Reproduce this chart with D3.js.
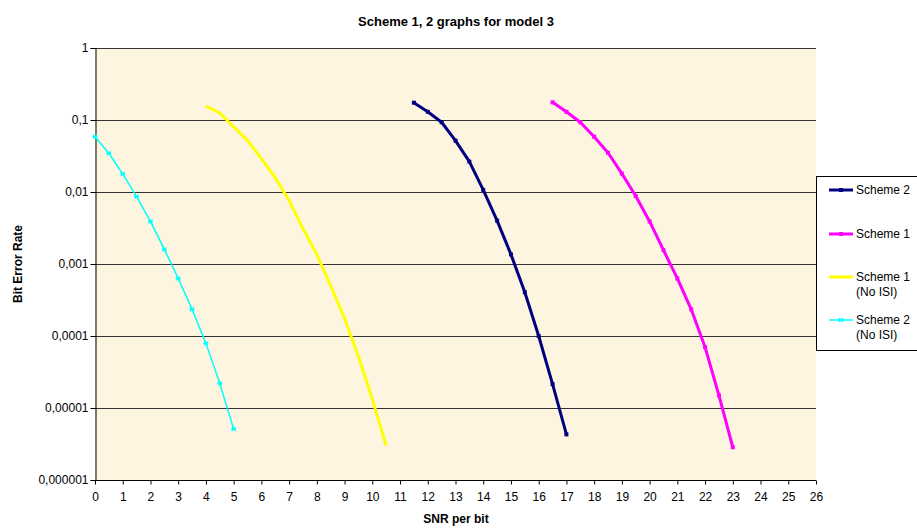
<!DOCTYPE html>
<html>
<head>
<meta charset="utf-8">
<script src="https://cdn.jsdelivr.net/npm/d3@7"></script>
<style>
  body { margin: 0; background: #fff; }
  svg { display: block; font-family: 'Liberation Sans', Arial, sans-serif; }
</style>
</head>
<body>
<svg id="chart" width="917" height="531"></svg>
<script>
'use strict';

// SNR per bit (dB) for each curve, 0.5 dB steps
var snrScheme2NoIsi = [0, 0.5, 1, 1.5, 2, 2.5, 3, 3.5, 4, 4.5, 5];
var berScheme2NoIsi = [0.0586, 0.0345, 0.0178, 0.0086, 0.0039, 0.0016, 0.00063, 0.000235, 0.000079, 0.000022, 0.0000051];

var snrScheme1NoIsi = [4, 4.5, 5, 5.5, 6, 6.5, 7, 7.5, 8, 8.5, 9, 9.5, 10, 10.5];
var berScheme1NoIsi = [0.156, 0.125, 0.0807, 0.0522, 0.029, 0.0158, 0.0076, 0.0031, 0.00135, 0.0005, 0.000175, 0.000052, 0.0000133, 0.000003];

var snrScheme2 = [11.5, 12, 12.5, 13, 13.5, 14, 14.5, 15, 15.5, 16, 16.5, 17];
var berScheme2 = [0.174, 0.13, 0.093, 0.0516, 0.0264, 0.0107, 0.004, 0.00136, 0.000405, 0.0001, 0.0000215, 0.0000043];

var snrScheme1 = [16.5, 17, 17.5, 18, 18.5, 19, 19.5, 20, 20.5, 21, 21.5, 22, 22.5, 23];
var berScheme1 = [0.176, 0.13, 0.093, 0.0586, 0.0351, 0.018, 0.0088, 0.0039, 0.00156, 0.00063, 0.000235, 0.00007, 0.000015, 0.00000285];

var xTicks = d3.range(0, 27);
var yTicks = [1, 0.1, 0.01, 0.001, 0.0001, 0.00001, 0.000001];
var yTickLabels = ['1', '0,1', '0,01', '0,001', '0,0001', '0,00001', '0,000001'];

var legendNames = [['Scheme 2'], ['Scheme 1'], ['Scheme 1', '(No ISI)'], ['Scheme 2', '(No ISI)']];

var series = [
    { x: snrScheme2, y: berScheme2, color: '#000080', width: 3, marker: 'dash' },
    { x: snrScheme1, y: berScheme1, color: '#FF00FF', width: 3, marker: 'dash' },
    { x: snrScheme1NoIsi, y: berScheme1NoIsi, color: '#FFFF00', width: 3, marker: 'none' },
    { x: snrScheme2NoIsi, y: berScheme2NoIsi, color: '#00FFFF', width: 1.5, marker: 'star' }
];

var svg = d3.select('#chart');
var margin = { left: 95, right: 816, top: 48, bottom: 480 };

var x = d3.scaleLinear().domain([0, 26]).range([margin.left, margin.right]);
var y = d3.scaleLog().domain([0.000001, 1]).range([margin.bottom, margin.top]);

// plot background
svg.append('rect')
    .attr('x', margin.left)
    .attr('y', margin.top)
    .attr('width', margin.right - margin.left)
    .attr('height', margin.bottom - margin.top)
    .attr('fill', '#FDF5E0');

// horizontal gridlines
svg.append('g')
    .selectAll('line')
    .data(yTicks.slice(0, -1))
    .enter().append('line')
    .attr('x1', margin.left)
    .attr('x2', margin.right)
    .attr('y1', function(d) { return Math.round(y(d)) + 0.5; })
    .attr('y2', function(d) { return Math.round(y(d)) + 0.5; })
    .attr('stroke', '#333')
    .attr('stroke-width', 1);

// axes
var yAxis = d3.axisLeft(y)
    .tickValues(yTicks)
    .tickSize(5)
    .tickFormat(function(d, i) { return yTickLabels[i]; });

var gy = svg.append('g')
    .attr('transform', 'translate(' + (margin.left + 0.5) + ',0)')
    .call(yAxis);
gy.select('.domain').attr('stroke', '#000');
gy.selectAll('.tick line').attr('stroke', '#000');
gy.selectAll('.tick text')
    .attr('font-size', 12)
    .attr('fill', '#000')
    .attr('font-family', "'Liberation Sans', Arial, sans-serif")
    .attr('x', -7);

var xAxis = d3.axisBottom(x)
    .tickValues(xTicks)
    .tickSize(4)
    .tickFormat(d3.format('d'));

var gx = svg.append('g')
    .attr('transform', 'translate(0,' + (margin.bottom + 0.5) + ')')
    .call(xAxis);
gx.select('.domain').attr('stroke', '#000').attr('d', 'M' + margin.left + ',0H' + margin.right);
gx.selectAll('.tick line').attr('stroke', '#000');
gx.selectAll('.tick text')
    .attr('font-size', 12)
    .attr('fill', '#000')
    .attr('font-family', "'Liberation Sans', Arial, sans-serif")
    .attr('y', 12);

// titles
svg.append('text')
    .attr('x', 456)
    .attr('y', 26)
    .attr('text-anchor', 'middle')
    .attr('font-weight', 'bold')
    .attr('font-size', 13)
    .text('Scheme 1, 2 graphs for model 3');

svg.append('text')
    .attr('x', 456)
    .attr('y', 523)
    .attr('text-anchor', 'middle')
    .attr('font-weight', 'bold')
    .attr('font-size', 12)
    .text('SNR per bit');

svg.append('text')
    .attr('transform', 'translate(22,264) rotate(-90)')
    .attr('text-anchor', 'middle')
    .attr('font-weight', 'bold')
    .attr('font-size', 12)
    .text('Bit Error Rate');

// curves
var line = d3.line()
    .x(function(d) { return x(d[0]); })
    .y(function(d) { return y(d[1]); });

function drawMarkers(g, pts, s) {
    if (s.marker === 'dash') {
        g.selectAll('line.mk')
            .data(pts)
            .enter().append('line')
            .attr('class', 'mk')
            .attr('x1', function(d) { return x(d[0]) - 2; })
            .attr('x2', function(d) { return x(d[0]) + 2; })
            .attr('y1', function(d) { return y(d[1]); })
            .attr('y2', function(d) { return y(d[1]); })
            .attr('stroke', s.color)
            .attr('stroke-width', 4);
    } else if (s.marker === 'star') {
        g.selectAll('path.mk')
            .data(pts)
            .enter().append('path')
            .attr('class', 'mk')
            .attr('d', function(d) {
                var cx = x(d[0]), cy = y(d[1]);
                return 'M' + (cx - 2) + ',' + (cy - 2) + 'L' + (cx + 2) + ',' + (cy + 2) +
                    'M' + (cx - 2) + ',' + (cy + 2) + 'L' + (cx + 2) + ',' + (cy - 2) +
                    'M' + (cx - 2.5) + ',' + cy + 'L' + (cx + 2.5) + ',' + cy;
            })
            .attr('stroke', s.color)
            .attr('stroke-width', 1.2);
    }
}

series.forEach(function(s) {
    var pts = s.x.map(function(v, i) { return [v, s.y[i]]; });
    var g = svg.append('g');
    g.append('path')
        .datum(pts)
        .attr('d', line)
        .attr('fill', 'none')
        .attr('stroke', s.color)
        .attr('stroke-width', s.width)
        .attr('stroke-linejoin', 'round');
    drawMarkers(g, pts, s);
});

// legend
var legend = svg.append('g');
legend.append('rect')
    .attr('x', 816.5)
    .attr('y', 176.5)
    .attr('width', 120)
    .attr('height', 174)
    .attr('fill', '#fff')
    .attr('stroke', '#000');

var legendY = [190, 234, 277, 320];
legendNames.forEach(function(names, i) {
    var s = series[i];
    var ly = legendY[i];
    legend.append('line')
        .attr('x1', 829).attr('x2', 853)
        .attr('y1', ly).attr('y2', ly)
        .attr('stroke', s.color)
        .attr('stroke-width', s.width);
    if (s.marker !== 'none') {
        drawMarkers(legend.append('g'), [[x.invert(841), y.invert(ly)]], s);
    }
    names.forEach(function(t, j) {
        legend.append('text')
            .attr('x', 856)
            .attr('y', ly + 4 + j * 15)
            .attr('font-size', 12)
            .text(t);
    });
});
</script>
</body>
</html>
